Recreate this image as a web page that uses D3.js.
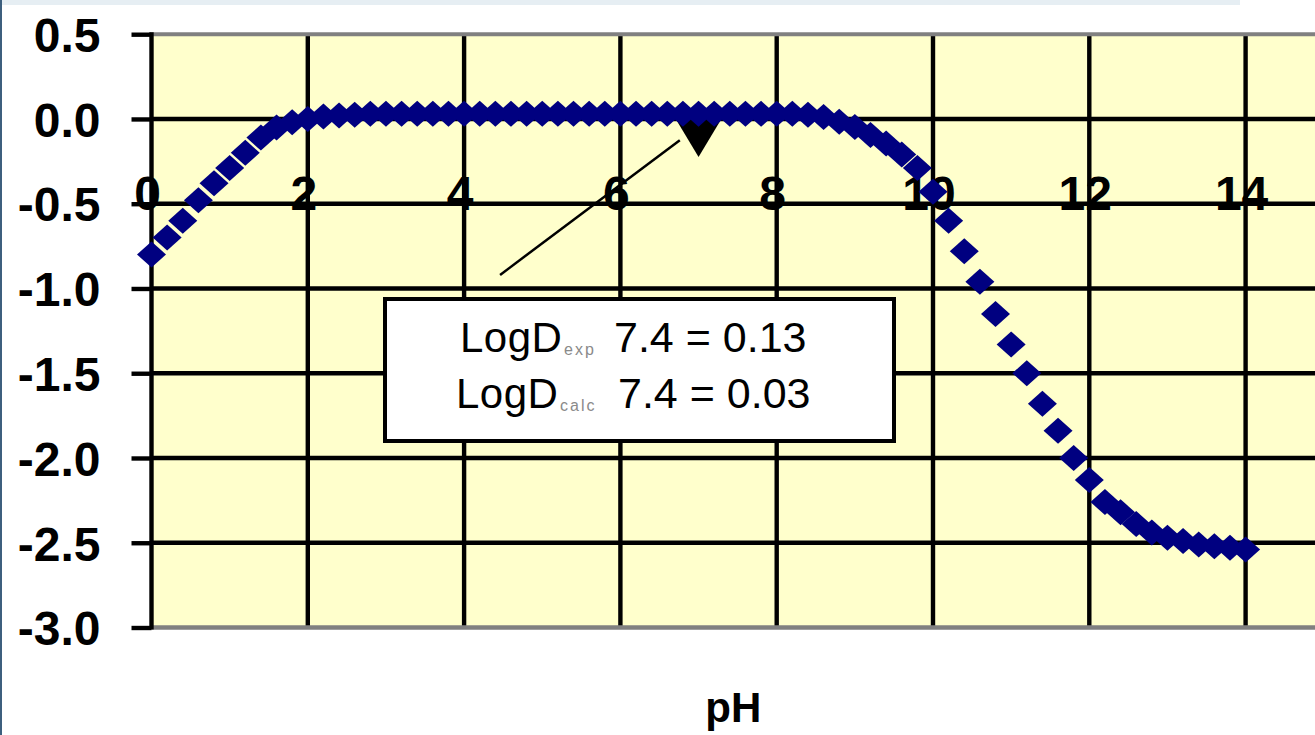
<!DOCTYPE html>
<html><head><meta charset="utf-8">
<script src="https://cdn.jsdelivr.net/npm/d3@7"></script>
<style>body{margin:0;background:#fff;overflow:hidden}svg{display:block}</style>
</head><body><svg id="c" width="1315" height="735"></svg>
<script>
// ---- data ----
const pHValues = [0.0,0.2,0.4,0.6,0.8,1.0,1.2,1.4,1.6,1.8,2.0,2.2,2.4,2.6,2.8,
  3.0,3.2,3.4,3.6,3.8,4.0,4.2,4.4,4.6,4.8,5.0,5.2,5.4,5.6,5.8,6.0,6.2,6.4,6.6,6.8,7.0,7.2,7.4,7.6,7.8,8.0,8.2,
  8.4,8.6,8.8,9.0,9.2,9.4,9.6,9.8,10.0,10.2,10.4,10.6,10.8,11.0,11.2,11.4,11.6,11.8,12.0,12.2,12.4,12.6,12.8,13.0,13.2,13.4,13.6,13.8,14.0];
const logDValues = [-0.80,-0.70,-0.60,-0.48,-0.38,-0.29,-0.20,-0.11,-0.05,-0.02,0.00,0.015,0.02,0.025,0.03,
  0.03,0.03,0.03,0.03,0.03,0.03,0.03,0.03,0.03,0.03,0.03,0.03,0.03,0.03,0.03,0.03,0.03,0.03,0.03,0.03,0.03,0.03,0.03,0.03,0.03,0.03,0.03,
  0.025,0.012,-0.017,-0.047,-0.095,-0.145,-0.21,-0.29,-0.43,-0.60,-0.78,-0.96,-1.15,-1.33,-1.50,-1.68,-1.84,-2.00,-2.13,-2.26,-2.32,-2.39,-2.44,-2.47,-2.49,-2.51,-2.52,-2.53,-2.54];
const expPH = [7.0];
const expLogD = [-0.095];
const yTickValues = [0.5,0.0,-0.5,-1.0,-1.5,-2.0,-2.5,-3.0];
const yTickLabels = ["0.5","0.0","-0.5","-1.0","-1.5","-2.0","-2.5","-3.0"];
const xTickValues = [0,2,4,6,8,10,12,14];
const xTickLabels = ["0","2","4","6","8","10","12","14"];
const annMain = ["LogD","LogD"];
const annSub = ["exp","calc"];
const annValue = ["7.4 = 0.13","7.4 = 0.03"];
const leaderFrom = [4.46,-0.92];
const leaderTo = [6.76,-0.125];
const xTitle = "pH";

// ---- drawing ----
const W = 1315, H = 735;
const svg = d3.select("#c");
const x = d3.scaleLinear().domain([0,14]).range([151.5,1245.6]);
const y = d3.scaleLinear().domain([-3,0.5]).range([627.5,34.2]);
const GW = 4.4;
const FONT = "'Liberation Sans',Arial,sans-serif";

// page decorations
svg.append("rect").attr("x",0).attr("y",0).attr("width",1240).attr("height",5).attr("fill","#e6eef3");
svg.append("line").attr("x1",1).attr("x2",1).attr("y1",0).attr("y2",H).attr("stroke","#3d5f7e").attr("stroke-width",2);

// plot area
svg.append("rect").attr("x",x(0)).attr("y",y(0.5)).attr("width",W-x(0)).attr("height",y(-3)-y(0.5)).attr("fill","#ffffcc");

// grid
svg.append("g").selectAll("line").data(yTickValues.filter(v=>v<0.5&&v>-3)).join("line")
  .attr("x1",x(0)).attr("x2",W).attr("y1",d=>y(d)).attr("y2",d=>y(d)).attr("stroke","#000").attr("stroke-width",GW);
svg.append("g").selectAll("line").data(xTickValues.filter(v=>v>0)).join("line")
  .attr("x1",d=>x(d)).attr("x2",d=>x(d)).attr("y1",y(0.5)).attr("y2",y(-3)).attr("stroke","#000").attr("stroke-width",GW);

// borders
svg.append("line").attr("x1",x(0)).attr("x2",W).attr("y1",y(0.5)).attr("y2",y(0.5)).attr("stroke","#808080").attr("stroke-width",4);
svg.append("line").attr("x1",x(0)).attr("x2",W).attr("y1",y(-3)).attr("y2",y(-3)).attr("stroke","#808080").attr("stroke-width",4.5);

// y axis
const yAxis = d3.axisLeft(y).tickValues(yTickValues).tickFormat((d,i)=>yTickLabels[i]).tickSize(20).tickPadding(31);
const ya = svg.append("g").attr("transform",`translate(${x(0)},0)`).call(yAxis);
ya.select(".domain").attr("stroke","#000").attr("stroke-width",GW).attr("d",`M0,${y(0.5)-2}V${y(-3)+2}`);
ya.selectAll(".tick line").attr("stroke","#000").attr("stroke-width",GW);
ya.selectAll(".tick text").attr("font-family",FONT).attr("font-weight","bold")
  .attr("font-size",48).attr("fill","#000").attr("dy","0.36em");

// x labels
svg.append("g").selectAll("text").data(xTickValues).join("text")
  .attr("x",d=>x(d)-4).attr("y",y(-0.5)+6).attr("text-anchor","middle")
  .attr("font-family",FONT).attr("font-weight","bold").attr("font-size",48)
  .text((d,i)=>xTickLabels[i]);

// experimental triangle
svg.append("g").selectAll("path").data(expPH).join("path")
  .attr("d",(d,i)=>{const cx=x(d), cy=y(expLogD[i]); return `M${cx-24},${cy-18}L${cx+24},${cy-18}L${cx},${cy+22}Z`;})
  .attr("fill","#000");

// diamonds
svg.append("g").selectAll("path").data(pHValues).join("path")
  .attr("d",(d,i)=>{const cx=x(d), cy=y(logDValues[i]); return `M${cx-14.5},${cy}L${cx},${cy-13}L${cx+14.5},${cy}L${cx},${cy+13}Z`;})
  .attr("fill","#000080");

// leader line
svg.append("line").attr("x1",x(leaderFrom[0])).attr("y1",y(leaderFrom[1])).attr("x2",x(leaderTo[0])).attr("y2",y(leaderTo[1]))
  .attr("stroke","#000").attr("stroke-width",2.5);

// annotation box
svg.append("rect").attr("x",385).attr("y",299).attr("width",509).attr("height",142)
  .attr("fill","#fff").attr("stroke","#000").attr("stroke-width",4);
const ann = svg.append("g").attr("font-family",FONT);
const baselines = [352,408];
const mainX = [460,456], subX = [564,560], valX = [614,618];
annMain.forEach((t,i)=>{
  ann.append("text").attr("x",mainX[i]).attr("y",baselines[i]).attr("font-size",42).attr("letter-spacing",0.5).attr("fill","#000").text(t);
  ann.append("text").attr("x",subX[i]).attr("y",baselines[i]+3).attr("font-size",16).attr("letter-spacing",2).attr("fill","#8a8a8a").text(annSub[i]);
  ann.append("text").attr("x",valX[i]).attr("y",baselines[i]).attr("font-size",43).attr("fill","#000").text(annValue[i]);
});

// x title
svg.append("text").attr("x",(x(0)+W)/2).attr("y",722).attr("text-anchor","middle")
  .attr("font-family",FONT).attr("font-weight","bold").attr("font-size",42).text(xTitle);
</script></body></html>
